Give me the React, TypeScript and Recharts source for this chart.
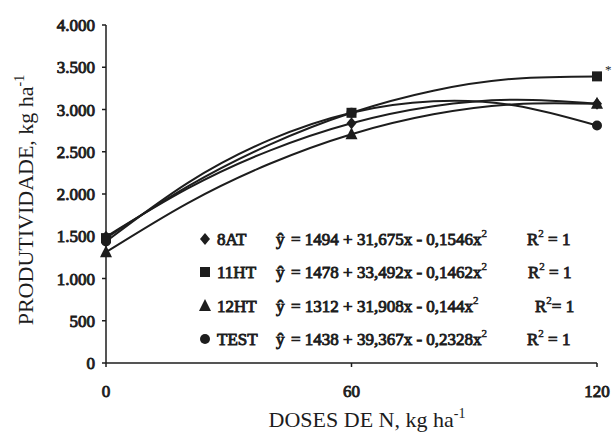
import { ComposedChart, Line, Scatter, XAxis, YAxis } from 'recharts';

// observed yields at each N dose
const doses = [0, 60, 120];
const obs8AT = [1494, 2838, 3069];
const obs11HT = [1478, 2961, 3392];
const obs12HT = [1312, 2708, 3067];
const obsTEST = [1438, 2962, 2810];

// fitted curves, every 20 kg
const curveX = [0, 20, 40, 60, 80, 100, 120];
const fit8AT = [1494, 2066, 2514, 2838, 3039, 3116, 3069];
const fit11HT = [1478, 2089, 2584, 2961, 3222, 3365, 3392];
const fit12HT = [1312, 1893, 2358, 2708, 2943, 3063, 3067];
const fitTEST = [1438, 2132, 2640, 2962, 3097, 3047, 2810];

const names = ['8AT', '11HT', '12HT', 'TEST'];
const equations = [
  '= 1494 + 31,675x - 0,1546x',
  '= 1478 + 33,492x - 0,1462x',
  '= 1312 + 31,908x - 0,144x',
  '= 1438 + 39,367x - 0,2328x',
];
const notes11HT = ['', '', '*'];

const yTicks = [0, 500, 1000, 1500, 2000, 2500, 3000, 3500, 4000];
const xTicks = [0, 60, 120];

const INK = '#1d1d1d';
const SERIF = 'Liberation Serif';

// the serif family has no bold face here, so thicken it with a stroke
const boldText = { fontFamily: SERIF, fill: INK, stroke: INK, strokeWidth: 0.9 };

const toPoints = (xs: number[], ys: number[], notes?: string[]) =>
  xs.map((x, i) => ({ x, y: ys[i], note: notes ? notes[i] : '' }));

const fmtThousands = (v: number) =>
  v >= 1000 ? `${Math.floor(v / 1000)}.${String(v % 1000).padStart(3, '0')}` : String(v);

type Kind = 'diamond' | 'square' | 'triangle' | 'circle';

function Marker({ kind, cx, cy }: { kind: Kind; cx: number; cy: number }) {
  if (kind === 'diamond') {
    return <polygon points={`${cx},${cy - 6} ${cx + 5},${cy} ${cx},${cy + 6} ${cx - 5},${cy}`} fill={INK} stroke="none" />;
  }
  if (kind === 'square') {
    return <rect x={cx - 5} y={cy - 5} width={10} height={10} fill={INK} stroke="none" />;
  }
  if (kind === 'triangle') {
    return <polygon points={`${cx},${cy - 7} ${cx + 6},${cy + 5} ${cx - 6},${cy + 5}`} fill={INK} stroke="none" />;
  }
  return <circle cx={cx} cy={cy} r={5} fill={INK} stroke="none" />;
}

const shapeFor = (kind: Kind) => (props: any) => {
  const { cx, cy, payload } = props;
  return (
    <g>
      <Marker kind={kind} cx={cx} cy={cy} />
      {payload?.note ? (
        <text x={cx + 8} y={cy - 2} fontFamily={SERIF} fontSize={13} fill={INK}>
          {payload.note}
        </text>
      ) : null}
    </g>
  );
};

const series = [
  { kind: 'diamond' as Kind, obs: obs8AT, fit: fit8AT, notes: undefined },
  { kind: 'square' as Kind, obs: obs11HT, fit: fit11HT, notes: notes11HT },
  { kind: 'triangle' as Kind, obs: obs12HT, fit: fit12HT, notes: undefined },
  { kind: 'circle' as Kind, obs: obsTEST, fit: fitTEST, notes: undefined },
];

const legendKinds: Kind[] = ['diamond', 'square', 'triangle', 'circle'];
const rowBaselines = [245, 278, 312, 345];
const r2Left = [527, 528, 535, 527];

function YTick(props: any) {
  const { x, y, payload } = props;
  return (
    <text x={x} y={y} dy={6} textAnchor="end" fontSize={17} {...boldText}>
      {fmtThousands(payload.value)}
    </text>
  );
}

function XTick(props: any) {
  const { x, y, payload } = props;
  return (
    <text x={x} y={y} dy={12} textAnchor="middle" fontSize={17} {...boldText}>
      {payload.value}
    </text>
  );
}

function YTitle() {
  return (
    <text x={33} y={200} transform="rotate(-90 33 200)" textAnchor="middle" fontFamily={SERIF} fontSize={22} fill={INK}>
      PRODUTIVIDADE, kg ha
      <tspan fontSize={14} dy={-9}>-1</tspan>
    </text>
  );
}

function XTitle() {
  return (
    <text x={367} y={427} textAnchor="middle" fontFamily={SERIF} fontSize={22} fill={INK}>
      DOSES DE N, kg ha
      <tspan fontSize={14} dy={-9}>-1</tspan>
    </text>
  );
}

function LegendBox() {
  return (
    <svg width={612} height={432} style={{ position: 'absolute', left: 0, top: 0, pointerEvents: 'none' }}>
      {names.map((name, i) => {
        const b = rowBaselines[i];
        return (
          <g key={name} fontSize={17} {...boldText}>
            <Marker kind={legendKinds[i]} cx={205} cy={b - 6} />
            <text x={217} y={b}>{name}</text>
            <text x={276} y={b}>ŷ</text>
            <text x={291} y={b}>
              {equations[i]}
              <tspan fontSize={11} strokeWidth={0.5} dy={-8}>2</tspan>
            </text>
            <text x={r2Left[i]} y={b}>
              R
              <tspan fontSize={11} strokeWidth={0.5} dy={-8}>2</tspan>
              <tspan dy={8}>{i === 2 ? '= 1' : ' = 1'}</tspan>
            </text>
          </g>
        );
      })}
    </svg>
  );
}

export default function App() {
  return (
    <div style={{ position: 'absolute', left: 0, top: 0, width: 612, height: 432, background: '#fff' }}>
      <ComposedChart width={612} height={432} margin={{ top: 25, right: 15, bottom: 29, left: 0 }}>
        <XAxis
          type="number"
          dataKey="x"
          domain={[0, 120]}
          ticks={xTicks}
          height={40}
          tickSize={4}
          tickMargin={18}
          tick={<XTick />}
          stroke={INK}
          strokeWidth={1.5}
          allowDuplicatedCategory={false}
          label={<XTitle />}
        />
        <YAxis
          type="number"
          dataKey="y"
          domain={[0, 4000]}
          ticks={yTicks}
          width={106}
          tickSize={4}
          tickMargin={7}
          tick={<YTick />}
          stroke={INK}
          strokeWidth={1.5}
          label={<YTitle />}
        />
        {series.map((s, i) => (
          <Line
            key={`fit-${i}`}
            data={toPoints(curveX, s.fit)}
            dataKey="y"
            type="natural"
            stroke={INK}
            strokeWidth={2}
            dot={false}
            activeDot={false}
            isAnimationActive={false}
          />
        ))}
        {series.map((s, i) => (
          <Scatter
            key={`obs-${i}`}
            data={toPoints(doses, s.obs, s.notes)}
            dataKey="y"
            shape={shapeFor(s.kind)}
            isAnimationActive={false}
          />
        ))}
      </ComposedChart>
      <LegendBox />
    </div>
  );
}
